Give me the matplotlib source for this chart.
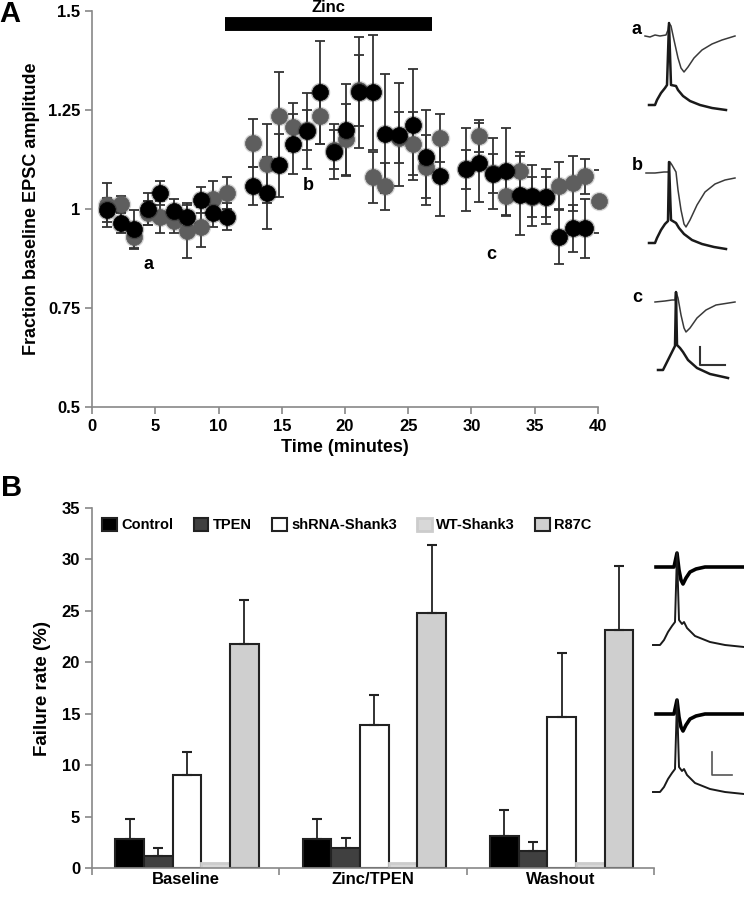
import numpy as np
import matplotlib.pyplot as plt

plt.rcParams['font.family'] = ['Liberation Sans', 'DejaVu Sans']
plt.rcParams['font.weight'] = 'bold'

# ---------------------------------
# Panel A data (fraction of baseline EPSC amplitude)
# ---------------------------------
time_min = [1.2, 2.3, 3.3, 4.4, 5.4, 6.5, 7.5, 8.6, 9.6, 10.7,
            12.7, 13.8, 14.8, 15.9, 17.0, 18.0, 19.1, 20.1, 21.1, 22.2,
            23.2, 24.3, 25.4, 26.4, 27.5,
            29.6, 30.6, 31.7, 32.7, 33.8, 34.8, 35.9, 36.9, 38.0, 39.0, 40.1]

gray_amp = [1.01, 1.013, 0.93, 0.99, 0.98, 0.97, 0.945, 0.955, 1.025, 1.04,
            1.166, 1.114, 1.235, 1.207, 1.20, 1.235, 1.15, 1.176, 1.30, 1.08,
            1.057, 1.18, 1.165, 1.107, 1.179,
            1.10, 1.185, 1.09, 1.033, 1.095, 1.03, 1.03, 1.058, 1.065, 1.082, 1.019]
gray_err = [0.056, 0.02, 0.03, 0.03, 0.04, 0.03, 0.069, 0.05, 0.046, 0.04,
            0.06, 0.10, 0.11, 0.06, 0.05, 0.07, 0.05, 0.09, 0.09, 0.065,
            0.06, 0.065, 0.08, 0.08, 0.06,
            0.05, 0.04, 0.05, 0.05, 0.05, 0.05, 0.05, 0.06, 0.07, 0.045, 0.08]

black_amp = [0.997, 0.965, 0.95, 1.0, 1.04, 0.995, 0.98, 1.023, 0.99, 0.98,
             1.058, 1.04, 1.11, 1.164, 1.197, 1.295, 1.145, 1.2, 1.295, 1.295,
             1.19, 1.187, 1.213, 1.13, 1.082,
             1.10, 1.117, 1.089, 1.095, 1.035, 1.033, 1.031, 0.93, 0.951, 0.951]
black_err = [0.03, 0.025, 0.048, 0.04, 0.03, 0.03, 0.03, 0.032, 0.036, 0.034,
             0.048, 0.09, 0.08, 0.075, 0.095, 0.13, 0.07, 0.116, 0.14, 0.145,
             0.15, 0.13, 0.14, 0.12, 0.10,
             0.105, 0.10, 0.09, 0.11, 0.10, 0.077, 0.07, 0.07, 0.06, 0.075]

point_labels = ['a', 'b', 'c']
label_pos = [(4.5, 0.86), (17.1, 1.06), (31.6, 0.885)]
zinc_span = (10.5, 26.9)

# ---------------------------------
# Panel B data (failure rate %)
# ---------------------------------
conditions = ['Baseline', 'Zinc/TPEN', 'Washout']
groups = ['Control', 'TPEN', 'shRNA-Shank3', 'WT-Shank3', 'R87C']
fail_mean = {
    'Control':      [2.8, 2.8, 3.1],
    'TPEN':         [1.2, 1.9, 1.65],
    'shRNA-Shank3': [9.0, 13.9, 14.7],
    'WT-Shank3':    [0.5, 0.5, 0.5],
    'R87C':         [21.8, 24.8, 23.1],
}
fail_err = {
    'Control':      [2.0, 2.0, 2.5],
    'TPEN':         [0.75, 1.0, 0.85],
    'shRNA-Shank3': [2.3, 2.9, 6.2],
    'WT-Shank3':    [0, 0, 0],
    'R87C':         [4.3, 6.6, 6.3],
}
bar_face = ['#000000', '#404040', '#ffffff', '#d8d8d8', '#cfcfcf']
bar_edge = ['#222222', '#222222', '#222222', '#cccccc', '#222222']

# ---------------------------------
# Figure
# ---------------------------------
fig = plt.figure(figsize=(7.44, 8.99), dpi=100)

axA = fig.add_axes([0.1237, 0.5473, 0.680, 0.4405])
for amp, err, col in [(gray_amp, gray_err, '#5e5e5e'), (black_amp, black_err, '#000000')]:
    t = time_min[:len(amp)]
    axA.errorbar(t, amp, yerr=err, fmt='none', ecolor='#333333',
                 elinewidth=1.3, capsize=3.5, capthick=1.3, zorder=2)
    # soft halo like the blurred markers of the original
    axA.plot(t, amp, 'o', ms=14, color=col, mew=0, alpha=0.25, zorder=3,
             clip_on=False)
    axA.plot(t, amp, 'o', ms=11.5, color=col, mec=col, mew=0.5, zorder=3,
             clip_on=False)

axA.set_xlim(0, 40)
axA.set_ylim(0.5, 1.5)
axA.set_xticks(range(0, 41, 5))
axA.set_yticks([0.5, 0.75, 1, 1.25, 1.5])
axA.set_yticklabels(['0.5', '0.75', '1', '1.25', '1.5'])
axA.set_xlabel('Time (minutes)', fontsize=13, fontweight='bold', labelpad=4)
axA.set_ylabel('Fraction baseline EPSC amplitude', fontsize=13,
               fontweight='bold', labelpad=6)
for lab, (x, y) in zip(point_labels, label_pos):
    axA.text(x, y, lab, fontsize=13, fontweight='bold', ha='center', va='center')

axA.plot(zinc_span, [1.466, 1.466], color='black', lw=10,
         solid_capstyle='butt', clip_on=False)
axA.text(sum(zinc_span) / 2, 1.508, 'Zinc', fontsize=12, fontweight='bold',
         ha='center', va='center')

axB = fig.add_axes([0.1237, 0.0345, 0.7554, 0.4004])
width = 0.153
x = np.arange(len(conditions))
for i, g in enumerate(groups):
    pos = x + (i - 2) * width + 0.007
    axB.bar(pos, fail_mean[g], width, color=bar_face[i], edgecolor=bar_edge[i],
            linewidth=1.5 if g != 'WT-Shank3' else 2, label=g, zorder=2)
    if g != 'WT-Shank3':
        axB.errorbar(pos, fail_mean[g], yerr=[[0] * 3, fail_err[g]], fmt='none',
                     ecolor='#222222', elinewidth=1.3, capsize=3.5,
                     capthick=1.5, zorder=3)

axB.set_xlim(-0.5, 2.5)
axB.set_ylim(0, 35)
axB.set_yticks(range(0, 36, 5))
axB.set_xticks(x)
axB.set_xticklabels(conditions)
axB.set_xticks([-0.5, 0.5, 1.5, 2.5], minor=True)
axB.set_ylabel('Failure rate (%)', fontsize=13.5, fontweight='bold', labelpad=8)
axB.legend(ncol=5, loc='upper left', bbox_to_anchor=(-0.005, 1.01),
           frameon=False, fontsize=10.5, handlelength=1.0, handleheight=1.0,
           handletextpad=0.3, columnspacing=1.4)

for ax in (axA, axB):
    for s in ('top', 'right'):
        ax.spines[s].set_visible(False)
    for s in ('left', 'bottom'):
        ax.spines[s].set_color('#888888')
        ax.spines[s].set_linewidth(1.2)
    ax.tick_params(which='both', color='#888888', width=1.2, length=5,
                   labelsize=12)
    for lab in ax.get_xticklabels() + ax.get_yticklabels():
        lab.set_fontweight('bold')
axB.tick_params(axis='x', which='major', length=0, pad=3)
axB.tick_params(axis='x', which='minor', length=5, color='#888888')

# ---------------------------------
# Example traces (digitized outlines, figure pixel coords)
# ---------------------------------
ov = fig.add_axes([0, 0, 1, 1])
ov.set_xlim(0, 744)
ov.set_ylim(899, 0)
ov.axis('off')
ov.patch.set_alpha(0)

epsc_a = [(645, 36), (650, 37), (655, 35), (660, 36), (666, 35), (668, 30), (669, 23),
          (671, 26), (674, 40), (678, 58), (681, 68), (684, 72), (688, 67), (694, 58),
          (702, 50), (712, 44), (722, 40), (735, 36)]
stim_a = [(649, 105), (655, 105), (657, 100), (661, 93), (665, 88), (667, 85), (669, 23),
          (671, 85), (676, 86), (678, 90), (683, 96), (690, 101), (700, 105), (712, 108),
          (726, 110)]
epsc_b = [(646, 173), (655, 173), (664, 172), (669, 172), (670, 162), (672, 165),
          (676, 172), (678, 190), (681, 210), (684, 224), (686, 227), (690, 220),
          (697, 205), (705, 192), (715, 184), (725, 180), (735, 178)]
stim_b = [(649, 243), (655, 243), (657, 238), (661, 230), (665, 224), (668, 221),
          (669, 162), (671, 220), (676, 223), (679, 228), (684, 234), (692, 240),
          (702, 244), (714, 247), (726, 249)]
epsc_c = [(655, 302), (665, 301), (672, 300), (675, 300), (676, 292), (678, 298),
          (681, 315), (684, 328), (686, 332), (690, 328), (697, 318), (706, 310),
          (716, 305), (735, 302)]
stim_c = [(658, 370), (663, 370), (665, 366), (669, 358), (673, 350), (675, 346),
          (676, 292), (677, 345), (680, 348), (683, 352), (688, 360), (697, 368),
          (710, 374), (728, 378)]
fail_sweep = [(656, 567), (674, 567), (677, 553), (679, 570), (681, 580), (683, 584),
              (686, 578), (690, 572), (696, 569), (705, 567), (744, 567)]
fail_stim = [(653, 645), (660, 645), (664, 640), (668, 632), (672, 626), (675, 622),
             (677, 553), (679, 620), (682, 624), (684, 622), (687, 628), (695, 636),
             (710, 642), (725, 645), (744, 647)]

for epsc, stim in [(epsc_a, stim_a), (epsc_b, stim_b), (epsc_c, stim_c)]:
    ov.plot(*zip(*epsc), color='#3a3a3a', lw=1.1)
    ov.plot(*zip(*stim), color='#1a1a1a', lw=1.8)
for dy in (0, 147):
    ov.plot([p[0] for p in fail_sweep], [p[1] + dy for p in fail_sweep],
            color='black', lw=2.6)
    ov.plot([p[0] for p in fail_stim], [p[1] + dy for p in fail_stim],
            color='#1a1a1a', lw=1.4)

ov.plot([700, 700, 725], [347, 365, 365], color='#333333', lw=1.5)
ov.plot([712, 712, 732], [752, 775, 775], color='#555555', lw=1.2)
for lab, (tx, ty) in zip(point_labels, [(637, 30), (637, 165), (637, 298)]):
    ov.text(tx, ty, lab, fontsize=13, fontweight='bold', ha='center', va='center')

ov.text(10, 14, 'A', fontsize=21, fontweight='bold', ha='center', va='center')
ov.text(12, 488, 'B', fontsize=21, fontweight='bold', ha='center', va='center')

fig.savefig('out.png', dpi=100)
